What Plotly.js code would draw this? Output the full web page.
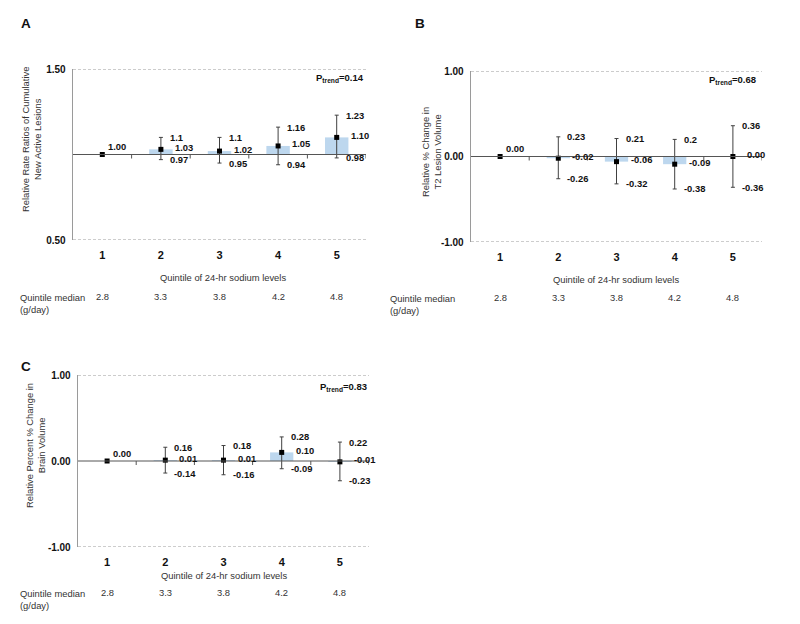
<!DOCTYPE html>
<html>
<head>
<meta charset="utf-8">
<script src="https://cdn.plot.ly/plotly-3.0.1.min.js"></script>
<style>html,body{margin:0;padding:0;background:#fff;}#chart{width:800px;height:624px;}</style>
</head>
<body>
<div id="chart"></div>
<script>
// ---- data ----
const cats = [1, 2, 3, 4, 5];
const catLabels = ['1', '2', '3', '4', '5'];
const medians = ['2.8', '3.3', '3.8', '4.2', '4.8'];

const aEst = [1.00, 1.03, 1.02, 1.05, 1.10];
const aLow = [null, 0.97, 0.95, 0.94, 0.98];
const aUp = [null, 1.1, 1.1, 1.16, 1.23];
const aEstLbl = ['1.00', '1.03', '1.02', '1.05', '1.10'];
const aLowLbl = [null, '0.97', '0.95', '0.94', '0.98'];
const aUpLbl = [null, '1.1', '1.1', '1.16', '1.23'];

const bEst = [0.00, -0.02, -0.06, -0.09, 0.00];
const bLow = [null, -0.26, -0.32, -0.38, -0.36];
const bUp = [null, 0.23, 0.21, 0.2, 0.36];
const bEstLbl = ['0.00', '-0.02', '-0.06', '-0.09', '0.00'];
const bLowLbl = [null, '-0.26', '-0.32', '-0.38', '-0.36'];
const bUpLbl = [null, '0.23', '0.21', '0.2', '0.36'];

const cEst = [0.00, 0.01, 0.01, 0.10, -0.01];
const cLow = [null, -0.14, -0.16, -0.09, -0.23];
const cUp = [null, 0.16, 0.18, 0.28, 0.22];
const cEstLbl = ['0.00', '0.01', '0.01', '0.10', '-0.01'];
const cLowLbl = [null, '-0.14', '-0.16', '-0.09', '-0.23'];
const cUpLbl = [null, '0.16', '0.18', '0.28', '0.22'];

const aTicks = [0.5, 1.5], aTickText = ['0.50', '1.50'];
const bTicks = [-1, 0, 1], bTickText = ['-1.00', '0.00', '1.00'];
const cTicks = [-1, 0, 1], cTickText = ['-1.00', '0.00', '1.00'];

const pTrend = ['0.14', '0.68', '0.83'];
const panelLetters = ['A', 'B', 'C'];
const yTitles = [
  'Relative Rate Ratios of Cumulative<br>New Active Lesions',
  'Relative % Change in<br>T2 Lesion Volume',
  'Relative Percent % Change in<br>Brain Volume'
];
const xTitle = 'Quintile of 24-hr sodium levels';
const medianTitle = 'Quintile median<br>(g/day)';

// ---- layout helpers ----
const W = 800, H = 624;
const px = v => v / W;
const py = v => 1 - v / H;
const FONT = 'Liberation Sans, Arial, sans-serif';
const TXT = 9.4, LBL = 9.4, CAT = 11, TICK = 10;

const panels = [
  {sfx: '', est: aEst, low: aLow, up: aUp, el: aEstLbl, ll: aLowLbl, ul: aUpLbl, base: 1, range: [0.5, 1.5],
   tv: aTicks, tt: aTickText, box: [73, 366, 69, 240], ytx: 31, yty: 140, xtx: 223, xty: 277, medY: 296, medX: 18, letX: 19, letY: 24},
  {sfx: '2', est: bEst, low: bLow, up: bUp, el: bEstLbl, ll: bLowLbl, ul: bUpLbl, base: 0, range: [-1, 1],
   tv: bTicks, tt: bTickText, box: [471, 762, 71, 242], ytx: 431, yty: 152, xtx: 616, xty: 279, medY: 297, medX: 388, letX: 413, letY: 24},
  {sfx: '3', est: cEst, low: cLow, up: cUp, el: cEstLbl, ll: cLowLbl, ul: cUpLbl, base: 0, range: [-1, 1],
   tv: cTicks, tt: cTickText, box: [78, 369, 375, 547], ytx: 35, yty: 446, xtx: 224, xty: 575, medY: 592, medX: 18, letX: 19, letY: 366}
];

const traces = [];
const shapes = [];
const annotations = [];
const layout = {
  width: W, height: H,
  margin: {l: 0, r: 0, t: 0, b: 0},
  paper_bgcolor: '#ffffff', plot_bgcolor: 'rgba(0,0,0,0)',
  showlegend: false,
  font: {family: FONT, color: '#222'},
  shapes: shapes, annotations: annotations
};

panels.forEach((p, i) => {
  const xa = 'x' + p.sfx, ya = 'y' + p.sfx;
  const [l, r, t, b] = p.box;
  layout['xaxis' + p.sfx] = {
    domain: [px(l), px(r)], range: [0.5, 5.5], anchor: ya,
    tickvals: cats, ticktext: catLabels, ticks: '', ticklabelstandoff: 7,
    tickfont: {family: FONT, size: CAT, color: '#111', weight: 'bold'},
    showline: false, showgrid: false, zeroline: false, fixedrange: true
  };
  layout['yaxis' + p.sfx] = {
    domain: [py(b), py(t)], range: p.range, anchor: xa,
    tickvals: p.tv, ticktext: p.tt, ticks: '', ticklabelstandoff: 4,
    tickfont: {family: FONT, size: TICK, color: '#111', weight: 'bold'},
    showline: true, linecolor: '#9a9a9a', linewidth: 1.3,
    showgrid: false, zeroline: false, fixedrange: true
  };

  // bars from baseline to estimate
  traces.push({
    type: 'bar', x: cats, y: p.est.map(v => v - p.base), base: cats.map(() => p.base),
    width: 0.4, marker: {color: '#bdd7ee', line: {width: 0}},
    xaxis: xa, yaxis: ya, hoverinfo: 'skip'
  });
  // estimate markers with CIs
  traces.push({
    type: 'scatter', mode: 'markers', x: cats, y: p.est,
    marker: {symbol: 'square', size: 5, color: '#000'},
    error_y: {
      type: 'data', symmetric: false,
      array: p.up.map((u, k) => u === null ? 0 : u - p.est[k]),
      arrayminus: p.low.map((lo, k) => lo === null ? 0 : p.est[k] - lo),
      color: '#404040', thickness: 1, width: 2
    },
    xaxis: xa, yaxis: ya, hoverinfo: 'skip'
  });

  // dashed limit lines
  p.range.forEach(v => shapes.push({
    type: 'line', xref: xa + ' domain', yref: ya, x0: 0, x1: 1, y0: v, y1: v,
    line: {color: '#9a9a9a', width: 1, dash: '3px,2px'}
  }));
  // baseline
  shapes.push({
    type: 'line', xref: xa + ' domain', yref: ya, x0: 0, x1: 1, y0: p.base, y1: p.base,
    line: {color: '#555', width: 1}
  });
  // tick marks on baseline at category boundaries
  [1.5, 2.5, 3.5, 4.5, 5.5].forEach(xv => shapes.push({
    type: 'line', xref: xa, yref: ya, x0: xv, x1: xv,
    ysizemode: 'pixel', yanchor: p.base, y0: 0, y1: -4,
    line: {color: '#555', width: 1}
  }));

  // data labels
  cats.forEach((c, k) => {
    const hasCI = p.up[k] !== null;
    annotations.push({
      xref: xa, yref: ya, x: c, y: p.est[k], text: '<b>' + p.el[k] + '</b>',
      showarrow: false, xanchor: 'left', yanchor: 'middle',
      xshift: hasCI ? 12 : 4, yshift: hasCI ? 2 : 8,
      font: {family: FONT, size: LBL, color: '#111'}
    });
    if (hasCI) {
      annotations.push({
        xref: xa, yref: ya, x: c, y: p.up[k], text: '<b>' + p.ul[k] + '</b>',
        showarrow: false, xanchor: 'left', yanchor: 'middle', xshift: 7,
        font: {family: FONT, size: LBL, color: '#111'}
      });
      annotations.push({
        xref: xa, yref: ya, x: c, y: p.low[k], text: '<b>' + p.ll[k] + '</b>',
        showarrow: false, xanchor: 'left', yanchor: 'middle', xshift: 7,
        font: {family: FONT, size: LBL, color: '#111'}
      });
    }
    // medians row
    annotations.push({
      xref: xa, yref: 'paper', x: c, y: py(p.medY), text: medians[k],
      showarrow: false, xanchor: 'center', yanchor: 'middle',
      font: {family: FONT, size: TXT, color: '#333'}
    });
  });

  // P trend
  annotations.push({
    xref: xa + ' domain', yref: ya + ' domain', x: 1, y: 1, xanchor: 'right', yanchor: 'middle',
    yshift: i === 2 ? -12 : -9, xshift: i === 1 ? -4 : 0,
    text: '<b>P<sub>trend</sub>=' + pTrend[i] + '</b>', showarrow: false,
    font: {family: FONT, size: 9.5, color: '#111'}
  });
  // y title
  annotations.push({
    xref: 'paper', yref: 'paper', x: px(p.ytx), y: py(p.yty), textangle: -90,
    xanchor: 'center', yanchor: 'middle', text: yTitles[i], showarrow: false,
    font: {family: FONT, size: TXT, color: '#333'}
  });
  // x title
  annotations.push({
    xref: 'paper', yref: 'paper', x: px(p.xtx), y: py(p.xty),
    xanchor: 'center', yanchor: 'middle', text: xTitle, showarrow: false,
    font: {family: FONT, size: TXT, color: '#333'}
  });
  // median title
  annotations.push({
    xref: 'paper', yref: 'paper', x: px(p.medX), y: py(p.medY - 6.5), align: 'left',
    xanchor: 'left', yanchor: 'top', text: medianTitle, showarrow: false,
    font: {family: FONT, size: TXT, color: '#333'}
  });
  // panel letter
  annotations.push({
    xref: 'paper', yref: 'paper', x: px(p.letX), y: py(p.letY),
    xanchor: 'left', yanchor: 'middle', text: '<b>' + panelLetters[i] + '</b>', showarrow: false,
    font: {family: FONT, size: 13.5, color: '#111'}
  });
});

Plotly.newPlot('chart', traces, layout, {staticPlot: true, displayModeBar: false});
</script>
</body>
</html>
